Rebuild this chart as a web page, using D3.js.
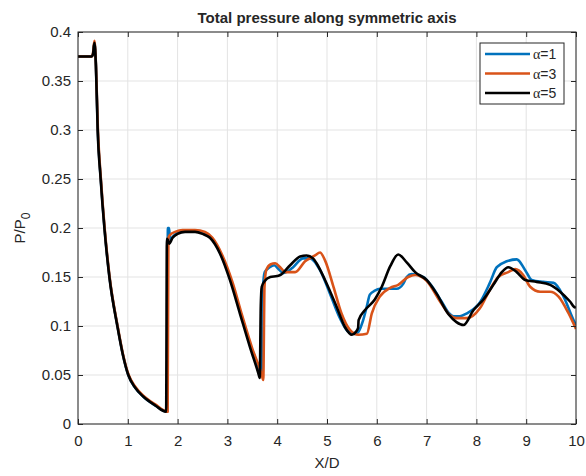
<!DOCTYPE html>
<html>
<head>
<meta charset="utf-8">
<script src="https://cdn.jsdelivr.net/npm/d3@7"></script>
<style>
  body { margin: 0; background: #fff; }
  text { font-family: "Liberation Sans", Arial, sans-serif; fill: #262626; }
</style>
</head>
<body>
<div id="chart"></div>
<script>
// alpha = 1
var xBlue = [0, 0.27, 0.30, 0.33, 0.36, 0.397, 0.457, 0.532, 0.632, 0.792, 0.90, 1.01, 1.15, 1.31, 1.55, 1.79, 1.805, 1.83, 1.845, 1.90, 2.0, 2.2, 2.4, 2.55, 2.68, 2.88, 3.08, 3.28, 3.48, 3.66, 3.69, 3.71, 3.75, 3.85, 3.94, 4.03, 4.12, 4.22, 4.32, 4.52, 4.66, 4.86, 5.06, 5.26, 5.43, 5.56, 5.63, 5.72, 5.80, 5.86, 5.96, 6.06, 6.20, 6.40, 6.53, 6.60, 6.70, 6.93, 7.1, 7.3, 7.45, 7.54, 7.67, 7.81, 8.07, 8.27, 8.41, 8.61, 8.81, 8.98, 9.11, 9.34, 9.55, 9.75, 9.95, 10];
var yBlue = [0.375, 0.375, 0.377, 0.389, 0.366, 0.30, 0.25, 0.20, 0.15, 0.10, 0.071, 0.05, 0.037, 0.028, 0.019, 0.0125, 0.20, 0.20, 0.188, 0.191, 0.195, 0.197, 0.197, 0.195, 0.190, 0.172, 0.145, 0.111, 0.078, 0.055, 0.052, 0.135, 0.155, 0.160, 0.162, 0.158, 0.154, 0.156, 0.160, 0.169, 0.169, 0.157, 0.133, 0.108, 0.094, 0.092, 0.094, 0.105, 0.120, 0.132, 0.136, 0.138, 0.138, 0.138, 0.143, 0.150, 0.153, 0.150, 0.141, 0.125, 0.113, 0.110, 0.110, 0.113, 0.124, 0.144, 0.160, 0.166, 0.168, 0.157, 0.147, 0.145, 0.144, 0.130, 0.106, 0.101];

// alpha = 3
var xOrange = [0, 0.27, 0.30, 0.33, 0.36, 0.40, 0.46, 0.535, 0.635, 0.795, 0.90, 1.01, 1.15, 1.31, 1.55, 1.80, 1.815, 1.85, 1.95, 2.1, 2.35, 2.55, 2.7, 2.9, 3.1, 3.3, 3.5, 3.68, 3.72, 3.745, 3.78, 3.87, 3.96, 4.06, 4.16, 4.36, 4.56, 4.76, 4.86, 4.96, 5.13, 5.29, 5.46, 5.63, 5.80, 5.90, 6.06, 6.27, 6.43, 6.63, 6.77, 7.0, 7.27, 7.47, 7.6, 7.81, 8.07, 8.27, 8.44, 8.64, 8.78, 8.94, 9.08, 9.28, 9.48, 9.65, 9.85, 10];
var yOrange = [0.375, 0.375, 0.378, 0.391, 0.367, 0.30, 0.25, 0.20, 0.15, 0.10, 0.072, 0.051, 0.038, 0.029, 0.020, 0.0125, 0.19, 0.193, 0.196, 0.198, 0.198, 0.196, 0.190, 0.172, 0.145, 0.110, 0.077, 0.052, 0.045, 0.140, 0.157, 0.163, 0.164, 0.160, 0.155, 0.155, 0.166, 0.172, 0.175, 0.167, 0.140, 0.113, 0.096, 0.091, 0.092, 0.113, 0.130, 0.139, 0.142, 0.150, 0.152, 0.146, 0.125, 0.111, 0.108, 0.108, 0.118, 0.137, 0.150, 0.155, 0.158, 0.152, 0.140, 0.135, 0.135, 0.130, 0.113, 0.097];

// alpha = 5
var xBlack = [0, 0.27, 0.30, 0.33, 0.36, 0.395, 0.455, 0.53, 0.63, 0.79, 0.90, 1.01, 1.15, 1.31, 1.55, 1.77, 1.785, 1.80, 1.83, 1.90, 2.0, 2.15, 2.35, 2.5, 2.65, 2.85, 3.05, 3.25, 3.45, 3.62, 3.65, 3.67, 3.69, 3.75, 3.86, 4.0, 4.06, 4.26, 4.46, 4.59, 4.72, 4.79, 4.96, 5.19, 5.36, 5.50, 5.58, 5.625, 5.635, 5.76, 5.96, 6.10, 6.27, 6.43, 6.60, 6.77, 7.0, 7.2, 7.44, 7.6, 7.74, 7.94, 8.14, 8.34, 8.51, 8.64, 8.81, 8.98, 9.21, 9.48, 9.68, 9.88, 9.98, 10];
var yBlack = [0.375, 0.375, 0.377, 0.389, 0.365, 0.30, 0.25, 0.20, 0.15, 0.10, 0.071, 0.05, 0.037, 0.028, 0.019, 0.0126, 0.189, 0.188, 0.184, 0.190, 0.194, 0.196, 0.196, 0.194, 0.190, 0.174, 0.147, 0.113, 0.079, 0.052, 0.047, 0.12, 0.140, 0.146, 0.150, 0.151, 0.152, 0.162, 0.171, 0.172, 0.169, 0.164, 0.147, 0.120, 0.099, 0.091, 0.094, 0.098, 0.106, 0.116, 0.127, 0.140, 0.161, 0.173, 0.165, 0.155, 0.147, 0.133, 0.112, 0.104, 0.101, 0.116, 0.127, 0.142, 0.155, 0.160, 0.155, 0.147, 0.145, 0.142, 0.135, 0.125, 0.119, 0.120];

var xTicks = [0, 1, 2, 3, 4, 5, 6, 7, 8, 9, 10];
var yTicks = [0, 0.05, 0.1, 0.15, 0.2, 0.25, 0.3, 0.35, 0.4];
var seriesNames = ["=1", "=3", "=5"];
var seriesColors = ["#0072BD", "#D95319", "#000000"];

var width = 586, height = 476;
var margin = {top: 32, right: 10, bottom: 52, left: 78};
var w = width - margin.left - margin.right;
var h = height - margin.top - margin.bottom;

var svg = d3.select("#chart").append("svg")
  .attr("width", width)
  .attr("height", height);

var g = svg.append("g")
  .attr("transform", "translate(" + margin.left + "," + margin.top + ")");

var x = d3.scaleLinear().domain([0, 10]).range([0, w]);
var y = d3.scaleLinear().domain([0, 0.4]).range([h, 0]);

// grid
g.append("g").selectAll("line").data(xTicks).enter().append("line")
  .attr("x1", d => x(d)).attr("x2", d => x(d))
  .attr("y1", 0).attr("y2", h)
  .attr("stroke", "#e3e3e3").attr("stroke-width", 1);
g.append("g").selectAll("line").data(yTicks).enter().append("line")
  .attr("x1", 0).attr("x2", w)
  .attr("y1", d => y(d)).attr("y2", d => y(d))
  .attr("stroke", "#e3e3e3").attr("stroke-width", 1);

// lines
var line = d3.line()
  .x(d => x(d[0]))
  .y(d => y(d[1]))
  .curve(d3.curveMonotoneX);

var series = [
  d3.zip(xBlue, yBlue),
  d3.zip(xOrange, yOrange),
  d3.zip(xBlack, yBlack)
];

g.append("defs").append("clipPath").attr("id", "clip")
  .append("rect").attr("x", 0).attr("y", 0).attr("width", w).attr("height", h);

series.forEach(function(s, i) {
  g.append("path")
    .attr("d", line(s))
    .attr("fill", "none")
    .attr("stroke", seriesColors[i])
    .attr("stroke-width", 2.6)
    .attr("stroke-linejoin", "round")
    .attr("clip-path", "url(#clip)");
});

// axes
var fmt = d => d === 0 ? "0" : String(+d.toFixed(2));
var axStyle = function(sel) {
  sel.select(".domain").remove();
  sel.selectAll(".tick line").attr("stroke", "#262626");
  sel.selectAll(".tick text").style("font-size", "15px").attr("fill", "#262626");
};

g.append("g").attr("transform", "translate(0," + h + ")")
  .call(d3.axisBottom(x).tickValues(xTicks).tickFormat(fmt).tickSizeInner(-5).tickSizeOuter(0).tickPadding(11))
  .call(axStyle);
g.append("g")
  .call(d3.axisTop(x).tickValues(xTicks).tickFormat("").tickSizeInner(-5).tickSizeOuter(0))
  .call(axStyle);
g.append("g")
  .call(d3.axisLeft(y).tickValues(yTicks).tickFormat(fmt).tickSizeInner(-5).tickSizeOuter(0).tickPadding(7))
  .call(axStyle);
g.append("g").attr("transform", "translate(" + w + ",0)")
  .call(d3.axisRight(y).tickValues(yTicks).tickFormat("").tickSizeInner(-5).tickSizeOuter(0))
  .call(axStyle);

g.append("rect")
  .attr("x", 0).attr("y", 0).attr("width", w).attr("height", h)
  .attr("fill", "none").attr("stroke", "#262626").attr("stroke-width", 1);

// title and labels
svg.append("text")
  .attr("x", margin.left + w / 2).attr("y", 23)
  .attr("text-anchor", "middle")
  .style("font-size", "15px").style("font-weight", "bold")
  .attr("fill", "#000")
  .text("Total pressure along symmetric axis");

svg.append("text")
  .attr("x", margin.left + w / 2).attr("y", 468)
  .attr("text-anchor", "middle")
  .style("font-size", "15px")
  .text("X/D");

var yl = svg.append("text")
  .attr("transform", "translate(25," + (margin.top + h / 2) + ") rotate(-90)")
  .attr("text-anchor", "middle")
  .style("font-size", "15px");
yl.append("tspan").text("P/P");
yl.append("tspan").attr("dy", 5).style("font-size", "12px").text("0");

// legend
var lg = svg.append("g").attr("transform", "translate(480,43)");
lg.append("rect")
  .attr("width", 84).attr("height", 61)
  .attr("fill", "#fff").attr("stroke", "#262626").attr("stroke-width", 1);
seriesNames.forEach(function(n, i) {
  var ly = 11 + i * 19.5;
  lg.append("line")
    .attr("x1", 5).attr("x2", 50).attr("y1", ly).attr("y2", ly)
    .attr("stroke", seriesColors[i]).attr("stroke-width", 2.6);
  var t = lg.append("text").attr("x", 53).attr("y", ly + 5).style("font-size", "14px");
  t.append("tspan").style("font-family", "'Liberation Serif', 'Times New Roman', serif").text("\u03b1");
  t.append("tspan").text(n);
});
</script>
</body>
</html>
